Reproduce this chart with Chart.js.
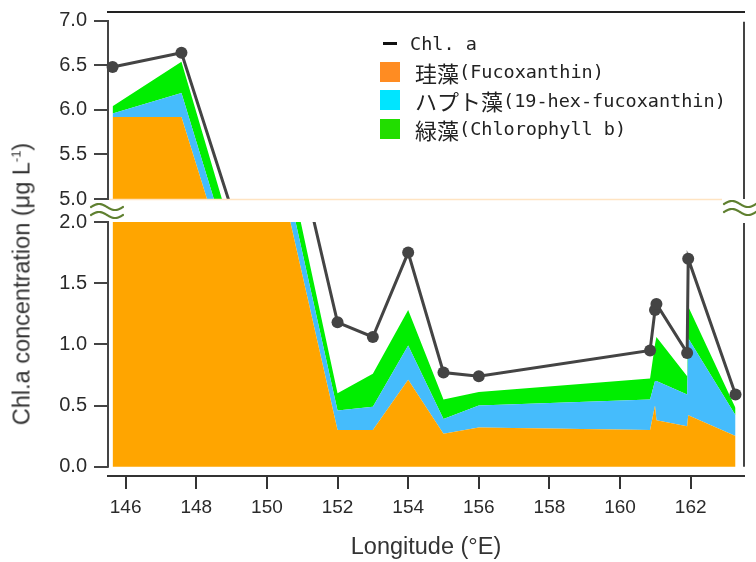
<!DOCTYPE html>
<html><head><meta charset="utf-8">
<script src="https://cdn.jsdelivr.net/npm/chart.js@4"></script>
<style>
html,body{margin:0;padding:0;background:#fff;}
#wrap{position:relative;width:756px;height:562px;overflow:hidden;background:#fff;}
canvas{position:absolute;left:0;top:0;}
#ytitle{position:absolute;left:22px;top:284px;transform:translate(-50%,-50%) rotate(-90deg);white-space:nowrap;font:23.5px "Liberation Sans",Arial,sans-serif;color:#333;}
#ytitle sup{font-size:13px;vertical-align:9px;line-height:0;}
.lrow{position:absolute;height:28px;display:flex;align-items:center;white-space:nowrap;color:#222;}
.lat{font:18.5px "DejaVu Sans Mono",monospace;}
.cjk{font:22px "Noto Sans CJK JP",sans-serif;}
</style></head>
<body><div id="wrap">
<canvas id="cTop" width="756" height="562"></canvas>
<canvas id="cBot" width="756" height="562"></canvas>
<div id="ytitle">Chl.a concentration (μg L<sup>-1</sup>)</div>
<div id="legend"></div>
</div>
<script>
// ---------- data ----------
const longitude   = [145.63, 147.58, 152.0, 153.0, 154.0, 155.0, 156.0, 160.85, 160.99, 161.03, 161.90, 161.93, 163.27];
const chlA        = [6.48, 6.64, 1.18, 1.06, 1.75, 0.77, 0.74, 0.95, 1.28, 1.33, 0.93, 1.70, 0.59];
const diatomFuco  = [5.92, 5.92, 0.30, 0.30, 0.71, 0.27, 0.32, 0.30, 0.50, 0.38, 0.33, 0.42, 0.25];
const haptoHex    = [0.04, 0.27, 0.16, 0.19, 0.28, 0.12, 0.18, 0.25, 0.20, 0.32, 0.26, 0.63, 0.17];
const greenChlB   = [0.08, 0.35, 0.14, 0.27, 0.29, 0.16, 0.11, 0.17, 0.30, 0.36, 0.15, 0.26, 0.06];
const seriesNames = ['Chl. a', '珪藻(Fucoxanthin)', 'ハプト藻(19-hex-fucoxanthin)', '緑藻(Chlorophyll b)'];
const xTicks      = [146, 148, 150, 152, 154, 156, 158, 160, 162];
const yTicksTop   = [5.0, 5.5, 6.0, 6.5, 7.0];
const yTicksBot   = [0.0, 0.5, 1.0, 1.5, 2.0];
const xTitle = 'Longitude (°E)';

// ---------- styles ----------
const areaColors   = ['#FFA500', '#45BCFC', '#00EE00'];
const legendColors = ['#FF8C22', '#00E5FF', '#22DD00'];
const lineColor = '#444444';
const FONT = '"Liberation Sans", Arial, sans-serif';
Chart.defaults.font.family = FONT;

const pts = arr => longitude.map((x, i) => ({x: x, y: arr[i]}));
function makeDatasets() {
  return [
    {label: seriesNames[0], data: pts(chlA), stack: 'chl', borderColor: lineColor, borderWidth: 3,
     pointRadius: 6, pointBackgroundColor: lineColor, pointBorderColor: lineColor, pointBorderWidth: 0,
     fill: false, tension: 0, clip: {left: 8, right: 8, top: 0, bottom: 0}},
    {label: seriesNames[1], data: pts(diatomFuco), borderWidth: 0, borderColor: 'rgba(0,0,0,0)', pointRadius: 0,
     backgroundColor: areaColors[0], fill: 'origin', tension: 0, clip: 0},
    {label: seriesNames[2], data: pts(haptoHex), borderWidth: 0, borderColor: 'rgba(0,0,0,0)', pointRadius: 0,
     backgroundColor: areaColors[1], fill: '-1', tension: 0, clip: 0},
    {label: seriesNames[3], data: pts(greenChlB), borderWidth: 0, borderColor: 'rgba(0,0,0,0)', pointRadius: 0,
     backgroundColor: areaColors[2], fill: '-1', tension: 0, clip: 0}
  ];
}
const X_MIN = 145.5, X_MAX = 163.51;

function yScale(min, max, ticks, border) {
  return {
    type: 'linear', min: min, max: max, stacked: true,
    afterBuildTicks: s => { s.ticks = ticks.map(v => ({value: v})); },
    afterFit: s => { s.width = 108; },
    grid: {drawOnChartArea: false, drawTicks: true, tickLength: 14, color: '#444', lineWidth: 2},
    border: {display: border, color: '#444', width: 2},
    ticks: {font: {size: 20, family: FONT}, color: '#2a2a2a', padding: 7, callback: v => Number(v).toFixed(1)}
  };
}

function squiggle(ctx, x, y, w) {
  ctx.save();
  ctx.strokeStyle = '#5f8030';
  ctx.lineWidth = 2.2;
  ctx.lineCap = 'round';
  [0, 8].forEach(dy => {
    ctx.beginPath();
    for (let i = 0; i <= 30; i++) {
      const t = i / 30;
      const px = x + t * w, py = y + dy - 3 * Math.sin(t * 2 * Math.PI);
      if (i === 0) ctx.moveTo(px, py); else ctx.lineTo(px, py);
    }
    ctx.stroke();
  });
  ctx.restore();
}

const topDeco = {
  id: 'topDeco',
  afterDraw(chart) {
    const ctx = chart.ctx, a = chart.chartArea, ys = chart.scales.y;
    ctx.save();
    ctx.strokeStyle = '#FFE4C2'; ctx.lineWidth = 1.5;
    ctx.beginPath(); ctx.moveTo(a.left + 1, ys.getPixelForValue(5) + 0.5); ctx.lineTo(722, ys.getPixelForValue(5) + 0.5); ctx.stroke();
    ctx.strokeStyle = '#222'; ctx.lineWidth = 2;
    ctx.beginPath(); ctx.moveTo(a.left - 1, 12); ctx.lineTo(a.right + 1, 12); ctx.stroke();
    ctx.strokeStyle = '#444'; ctx.lineWidth = 2;
    ctx.beginPath(); ctx.moveTo(Math.round(a.right), ys.getPixelForValue(7) + 1); ctx.lineTo(Math.round(a.right), ys.getPixelForValue(5)); ctx.stroke();
    ctx.restore();
    squiggle(ctx, 91, 207, 32);
    squiggle(ctx, 724, 204, 32);
  }
};
const botDeco = {
  id: 'botDeco',
  afterDraw(chart) {
    const ctx = chart.ctx, a = chart.chartArea, ys = chart.scales.y;
    ctx.save();
    ctx.strokeStyle = '#444'; ctx.lineWidth = 2;
    const y2 = ys.getPixelForValue(2), y0 = ys.getPixelForValue(0);
    ctx.beginPath(); ctx.moveTo(Math.round(a.left), y2 - 1); ctx.lineTo(Math.round(a.left), y0 + 1); ctx.stroke();
    ctx.beginPath(); ctx.moveTo(Math.round(a.right), y2 + 1); ctx.lineTo(Math.round(a.right), y0); ctx.stroke();
    ctx.restore();
  }
};

const common = {
  responsive: false, animation: false, events: [],
  plugins: {legend: {display: false}, tooltip: {enabled: false}}
};

new Chart(document.getElementById('cTop'), {
  type: 'line',
  data: {datasets: makeDatasets()},
  options: Object.assign({}, common, {
    layout: {padding: {top: 20.7, bottom: 363, left: 0, right: 12}},
    scales: {
      x: {type: 'linear', min: X_MIN, max: X_MAX, display: false},
      y: yScale(5, 7, yTicksTop, true)
    }
  }),
  plugins: [topDeco]
});

new Chart(document.getElementById('cBot'), {
  type: 'line',
  data: {datasets: makeDatasets()},
  options: Object.assign({}, common, {
    layout: {padding: {top: 222, bottom: 0, left: 0, right: 12}},
    scales: {
      x: {type: 'linear', min: X_MIN, max: X_MAX,
          afterBuildTicks: s => { s.ticks = xTicks.map(v => ({value: v})); },
          afterFit: s => { s.height = 86; },
          grid: {drawOnChartArea: false, drawTicks: true, tickLength: 13, color: '#333', lineWidth: 2},
          border: {display: true, color: '#333', width: 2},
          ticks: {font: {size: 19, family: FONT}, color: '#2a2a2a', padding: 7, maxRotation: 0, autoSkip: false,
                  callback: v => String(v)},
          title: {display: true, text: xTitle, font: {size: 23.5, family: FONT}, color: '#333', padding: {top: 0, bottom: 0}}
      },
      y: yScale(-0.076, 2, yTicksBot, false)
    }
  }),
  plugins: [botDeco]
});

// ---------- legend (HTML) ----------
const legend = document.getElementById('legend');
const rowCenters = [43, 71.5, 100, 128.5];
function textHTML(s) {
  return s.split(/([\u3000-\u30ff\u4e00-\u9fff\uff00-\uffef]+)/).filter(p => p.length)
    .map(p => /[\u3000-\u30ff\u4e00-\u9fff\uff00-\uffef]/.test(p) ? '<span class="cjk">' + p + '</span>' : '<span class="lat">' + p + '</span>').join('');
}
seriesNames.forEach((name, i) => {
  const row = document.createElement('div');
  row.className = 'lrow';
  row.style.top = (rowCenters[i] - 14) + 'px';
  if (i === 0) {
    row.style.left = '383px';
    row.innerHTML = '<div style="width:14px;height:3px;background:#111;margin-right:13px"></div>' + textHTML(name);
  } else {
    row.style.left = '380px';
    row.innerHTML = '<div style="width:20px;height:20px;background:' + legendColors[i - 1] + ';margin-right:15px"></div>' + textHTML(name);
  }
  legend.appendChild(row);
});
</script>
</body></html>
